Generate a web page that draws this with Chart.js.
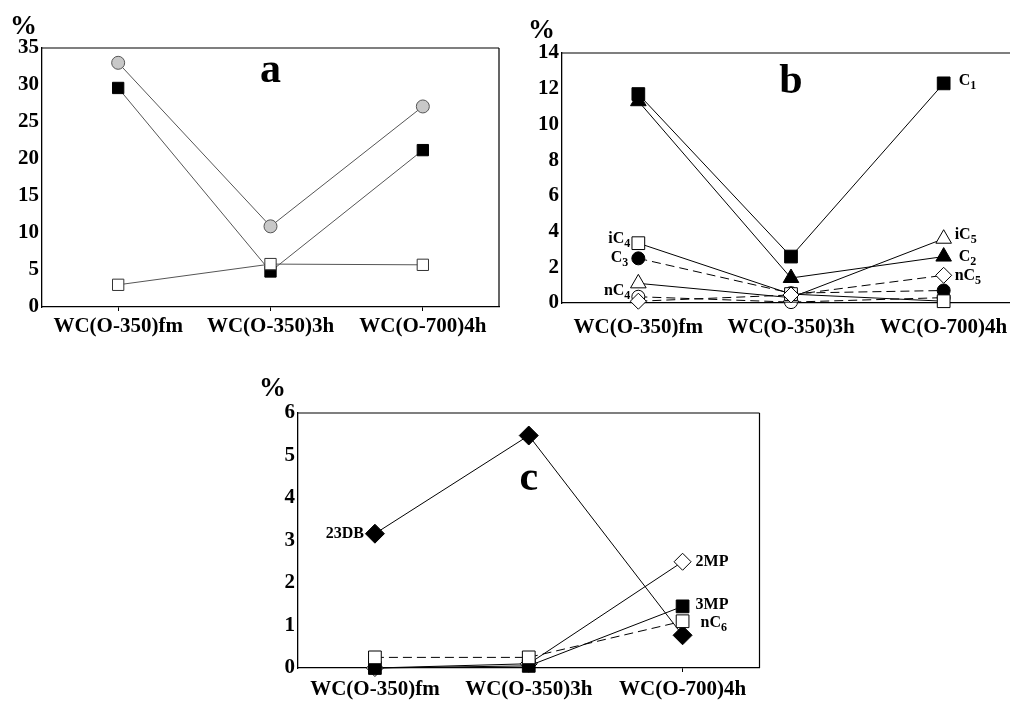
<!DOCTYPE html>
<html><head><meta charset="utf-8">
<script src="https://cdn.jsdelivr.net/npm/chart.js@4"></script>
<style>
html,body{margin:0;padding:0;background:#fff;overflow:hidden;width:1010px;height:701px;position:relative;}
canvas{position:absolute;}
</style></head><body>
<canvas id="ca" width="510" height="345" style="left:0px;top:0px"></canvas>
<canvas id="cb" width="520" height="345" style="left:510px;top:0px"></canvas>
<canvas id="cc" width="520" height="361" style="left:250px;top:340px"></canvas>
<script>
// ---------- DATA ----------
const categories = ['WC(O-350)fm', 'WC(O-350)3h', 'WC(O-700)4h'];

// panel a
const aGrayCircle  = [33.0, 10.9, 27.1];
const aBlackSquare = [29.6, 4.8, 21.2];
const aWhiteSquare = [3.0, 5.8, 5.7];
const aYTicks = [0, 5, 10, 15, 20, 25, 30, 35];

// panel b
const bNames = ['C1', 'C2', 'C3', 'iC4', 'nC4', 'iC5', 'nC5'];
const bC1  = [11.7, 2.6, 12.3];
const bC2  = [11.3, 1.4, 2.6];
const bC3  = [2.5, 0.55, 0.7];
const biC4 = [3.35, 0.5, 0.1];
const bnC4 = [0.35, 0.05, 0.3];
const biC5 = [1.1, 0.3, 3.6];
const bnC5 = [0.1, 0.45, 1.55];
const bYTicks = [0, 2, 4, 6, 8, 10, 12, 14];

// panel c
const cNames = ['23DB', '2MP', '3MP', 'nC6'];
const c23DB = [3.16, 5.47, 0.77];
const c2MP  = [0.0, 0.1, 2.5];
const c3MP  = [0.0, 0.05, 1.45];
const cnC6  = [0.25, 0.25, 1.1];
const cYTicks = [0, 1, 2, 3, 4, 5, 6];

const panelLetters = ['a', 'b', 'c'];
const unitLabel = '%';

// ---------- HELPERS ----------
const SERIF = '"Liberation Serif", "Times New Roman", serif';
Chart.defaults.font.family = SERIF;
Chart.defaults.color = '#000';

function drawTag(ctx, name, x, y, align) {
  const m = name.match(/^(.*\D)(\d+)$/);
  const main = m ? m[1] : name;
  const sub = m ? m[2] : '';
  ctx.textBaseline = 'middle';
  ctx.textAlign = 'left';
  const fMain = 'bold 16px ' + SERIF;
  const fSub = 'bold 12px ' + SERIF;
  ctx.font = fMain;
  const wMain = ctx.measureText(main).width;
  ctx.font = fSub;
  const wSub = sub ? ctx.measureText(sub).width : 0;
  let x0 = align === 'right' ? x - wMain - wSub : x;
  ctx.font = fMain;
  ctx.fillText(main, x0, y);
  if (sub) { ctx.font = fSub; ctx.fillText(sub, x0 + wMain, y + 5); }
}

function overlay(letter, letterBaseline, pctX, pctBaseline, boxSides) {
  return {
    id: 'overlay',
    afterDraw(chart) {
      const ctx = chart.ctx;
      const a = chart.chartArea;
      ctx.save();
      ctx.strokeStyle = '#000';
      ctx.lineWidth = 1.2;
      ctx.beginPath();
      if (boxSides.includes('top')) { ctx.moveTo(a.left, a.top); ctx.lineTo(a.right, a.top); }
      if (boxSides.includes('right')) { ctx.moveTo(a.right, a.top); ctx.lineTo(a.right, a.bottom); }
      ctx.stroke();
      ctx.fillStyle = '#000';
      ctx.textBaseline = 'alphabetic';
      ctx.textAlign = 'left';
      ctx.font = 'bold 27px ' + SERIF;
      ctx.fillText(unitLabel, pctX, pctBaseline);
      ctx.textAlign = 'center';
      ctx.font = 'bold 42px ' + SERIF;
      const xs = chart.scales.x;
      ctx.fillText(letter, xs.getPixelForValue(1), letterBaseline);
      const ys = chart.scales.y;
      chart.data.datasets.forEach(ds => {
        if (!ds.tag) return;
        const px = xs.getPixelForValue(ds.tag.i) + ds.tag.dx;
        const py = ys.getPixelForValue(ds.data[ds.tag.i]) + ds.tag.dy;
        drawTag(ctx, ds.label, px, py, ds.tag.align);
      });
      ctx.restore();
    }
  };
}

function baseOptions(yMin, yMax, yTicks, yWidth, xHeight, padTop, padRight, xPad) {
  return {
    responsive: false,
    animation: false,
    events: [],
    layout: { padding: { top: padTop, right: padRight, left: 0, bottom: 0 } },
    plugins: { legend: { display: false }, tooltip: { enabled: false } },
    scales: {
      x: {
        type: 'category',
        offset: true,
        grid: { display: true, drawOnChartArea: false, drawTicks: true, tickLength: 4, offset: false, color: '#000' },
        border: { display: true, color: '#000', width: 1.3 },
        ticks: { font: { size: 21, weight: 'bold' }, color: '#000', padding: xPad, maxRotation: 0, autoSkip: false },
        afterFit(s) { s.height = xHeight; }
      },
      y: {
        min: yMin, max: yMax,
        grid: { display: false, drawTicks: false },
        border: { display: true, color: '#000', width: 1.3 },
        ticks: { font: { size: 21, weight: 'bold' }, color: '#000', padding: 3 },
        afterBuildTicks(s) { s.ticks = yTicks.map(v => ({ value: v })); },
        afterFit(s) { s.width = yWidth; }
      }
    }
  };
}

function ds(label, data, style, color, bg, radius, dash, tag, lineColor, order) {
  return {
    label, data,
    pointStyle: style,
    pointRadius: radius,
    pointBackgroundColor: bg,
    pointBorderColor: color,
    pointBorderWidth: 1,
    borderColor: lineColor || '#000',
    borderWidth: 1,
    borderDash: dash || [],
    backgroundColor: bg,
    fill: false,
    tension: 0,
    clip: false,
    order: order || 0,
    tag
  };
}

// ---------- PANEL A ----------
new Chart(document.getElementById('ca'), {
  type: 'line',
  data: {
    labels: categories,
    datasets: [
      ds('gray', aGrayCircle, 'circle', '#555', '#c8c8c8', 6.5, null, null, '#555', 2),
      ds('black', aBlackSquare, 'rect', '#000', '#000', 8, null, null, '#555', 1),
      ds('white', aWhiteSquare, 'rect', '#333', '#fff', 8, null, null, '#555', 0)
    ]
  },
  options: baseOptions(0, 35, aYTicks, 42, 38, 48, 11, 3),
  plugins: [overlay(panelLetters[0], 82, 10, 34, ['top', 'right'])]
});

// ---------- PANEL B ----------
new Chart(document.getElementById('cb'), {
  type: 'line',
  data: {
    labels: categories,
    datasets: [
      ds(bNames[0], bC1, 'rect', '#000', '#000', 9, null, { i: 2, dx: 15, dy: -2, align: 'left' }, '#000', 0),
      ds(bNames[1], bC2, 'triangle', '#000', '#000', 9, null, { i: 2, dx: 15, dy: 0, align: 'left' }, '#000', 1),
      ds(bNames[2], bC3, 'circle', '#000', '#000', 6.5, [9, 5], { i: 0, dx: -10, dy: 0, align: 'right' }, '#000', 4),
      ds(bNames[3], biC4, 'rect', '#000', '#fff', 9, null, { i: 0, dx: -8, dy: -4, align: 'right' }, '#000', 3),
      ds(bNames[4], bnC4, 'circle', '#000', '#fff', 6.5, [9, 5], { i: 0, dx: -8, dy: -6, align: 'right' }, '#000', 6),
      ds(bNames[5], biC5, 'triangle', '#000', '#fff', 9, null, { i: 2, dx: 11, dy: -4, align: 'left' }, '#000', 5),
      ds(bNames[6], bnC5, 'rectRot', '#000', '#fff', 8, [9, 5], { i: 2, dx: 11, dy: 1, align: 'left' }, '#000', 2)
    ]
  },
  options: baseOptions(0, 14, bYTicks, 52, 42, 53, 8, 8),
  plugins: [overlay(panelLetters[1], 93, 18, 38, ['top', 'right'])]
});

// ---------- PANEL C ----------
new Chart(document.getElementById('cc'), {
  type: 'line',
  data: {
    labels: categories,
    datasets: [
      ds(cNames[0], c23DB, 'rectRot', '#000', '#000', 9.5, null, { i: 0, dx: -11, dy: 0, align: 'right' }, '#000', 1),
      ds(cNames[1], c2MP, 'rectRot', '#000', '#fff', 8.5, null, { i: 2, dx: 13, dy: 0, align: 'left' }, '#000', 3),
      ds(cNames[2], c3MP, 'rect', '#000', '#000', 9, null, { i: 2, dx: 13, dy: -2, align: 'left' }, '#000', 2),
      ds(cNames[3], cnC6, 'rect', '#000', '#fff', 9, [9, 5], { i: 2, dx: 18, dy: 2, align: 'left' }, '#000', 0)
    ]
  },
  options: baseOptions(0, 6, cYTicks, 48, 33, 73, 3, 5),
  plugins: [overlay(panelLetters[2], 150, 9, 56, ['top', 'right'])]
});
</script>
</body></html>
